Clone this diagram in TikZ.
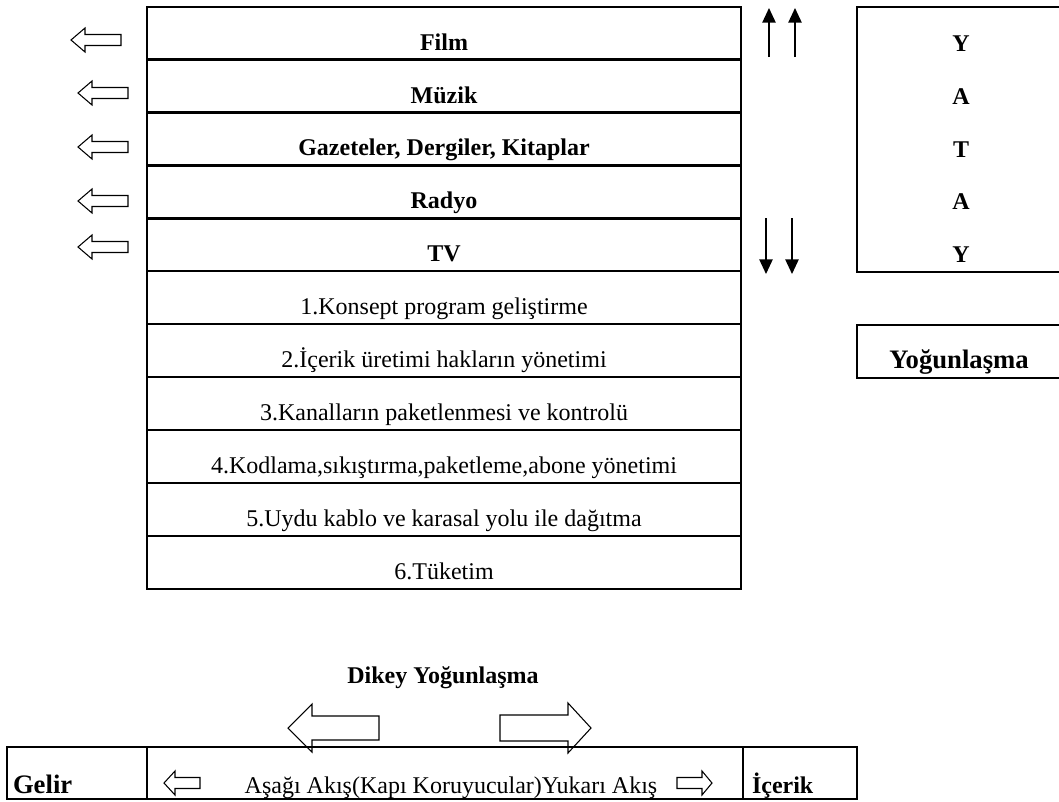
\documentclass[tikz,border=0pt]{standalone}
\usepackage{fontspec}
\setmainfont{Liberation Serif}
\usetikzlibrary{arrows.meta,calc}
\begin{document}
\begin{tikzpicture}[x=0.75pt,y=-0.75pt,
  every node/.style={inner sep=0pt, outer sep=0pt},
  toprow/.style={draw, line width=2pt, minimum width=445.5pt, minimum height=39.6pt},
  lowrow/.style={draw, line width=1.5pt, minimum width=445.5pt, minimum height=39.75pt},
  boldtxt/.style={font=\fontsize{18}{20}\selectfont\bfseries},
  bigbold/.style={font=\fontsize{20}{22}\selectfont\bfseries},
  regtxt/.style={font=\fontsize{18}{20}\selectfont},
  boxline/.style={line width=2pt},
  cell/.style={draw, line width=1.6pt, minimum height=39pt},
  arrowline/.style={line width=0.8pt, line join=miter},
  vline/.style={line width=1.1pt, -{Triangle[length=11pt,width=10pt]}},
  pics/blockarrow/.style n args={4}{code={
    \draw[arrowline] (0,0) -- (#2,#3) -- (#2,#4) -- (#1,#4) -- (#1,-#4) -- (#2,-#4) -- (#2,-#3) -- cycle;}}
]
\useasboundingbox (0,0) rectangle (1059,801);

% lower rows
\foreach \t [count=\i] in {1.Konsept program geliştirme, 2.İçerik üretimi hakların yönetimi, 3.Kanalların paketlenmesi ve kontrolü, {4.Kodlama,sıkıştırma,paketleme,abone yönetimi}, 5.Uydu kablo ve karasal yolu ile dağıtma, 6.Tüketim} {
  \node[lowrow] (l\i) at (444,{271+53*(\i-0.5)}) {};
  \node[regtxt, anchor=base] (lt\i) at ($(l\i.south)+(0,-10)$) {\t};
}
% upper rows
\foreach \t [count=\i] in {Film, Müzik, {Gazeteler, Dergiler, Kitaplar}, Radyo, TV} {
  \node[toprow] (u\i) at (444,{7+52.8*(\i-0.5)}) {};
  \node[boldtxt, anchor=base] (ut\i) at ($(u\i.south)+(0,-9.5)$) {\t};
}

% left hollow arrows
\foreach \x/\y in {71/40,78/93,78/147,78/201,78/247}
  \pic at (\x,\y) {blockarrow={50}{14}{12}{5.5}};

% up and down arrows
\coordinate (up1s) at (769,57); \coordinate (up1e) at (769,8);
\coordinate (up2s) at (795,57); \coordinate (up2e) at (795,8);
\coordinate (dn1s) at (766,218); \coordinate (dn1e) at (766,274);
\coordinate (dn2s) at (792,218); \coordinate (dn2e) at (792,274);
\draw[vline] (up1s) -- (up1e);
\draw[vline] (up2s) -- (up2e);
\draw[vline] (dn1s) -- (dn1e);
\draw[vline] (dn2s) -- (dn2e);

% YATAY box
\draw[boxline] (1062,7) -- (857,7) -- (857,272) -- (1062,272);
\foreach \t/\y [count=\i] in {Y/51, A/104, T/157, A/209, Y/262}
  \node[boldtxt, anchor=base] (yt\i) at (961,\y) {\t};

% Yogunlasma box
\draw[boxline] (1062,325) -- (857,325) -- (857,378) -- (1062,378);
\node[bigbold, anchor=base] (yog) at (959,368) {Yoğunlaşma};

% Dikey Yogunlasma
\node[boldtxt, anchor=base] (dikey) at (443,683) {Dikey Yoğunlaşma};
\pic at (288,728) {blockarrow={91}{24}{24}{12}};
\pic[rotate=180] at (591,728) {blockarrow={91}{23}{25}{13}};

% bottom table
\node[cell, minimum width=105pt] (gelir) at (77,773) {};
\node[cell, minimum width=447pt] (mid) at (445,773) {};
\node[cell, minimum width=85.5pt] (icerik) at (800,773) {};
\node[bigbold, anchor=base west] (gelirt) at (13,793) {Gelir};
\node[regtxt, anchor=base] (midt) at (451,793) {Aşağı Akış(Kapı Koruyucular)Yukarı Akış};
\node[boldtxt, anchor=base west] (icerikt) at (752,793) {İçerik};
\pic at (164,783) {blockarrow={36}{11}{12}{5.5}};
\pic[rotate=180] at (712,783) {blockarrow={35}{10}{12}{5.5}};
\end{tikzpicture}
\end{document}
